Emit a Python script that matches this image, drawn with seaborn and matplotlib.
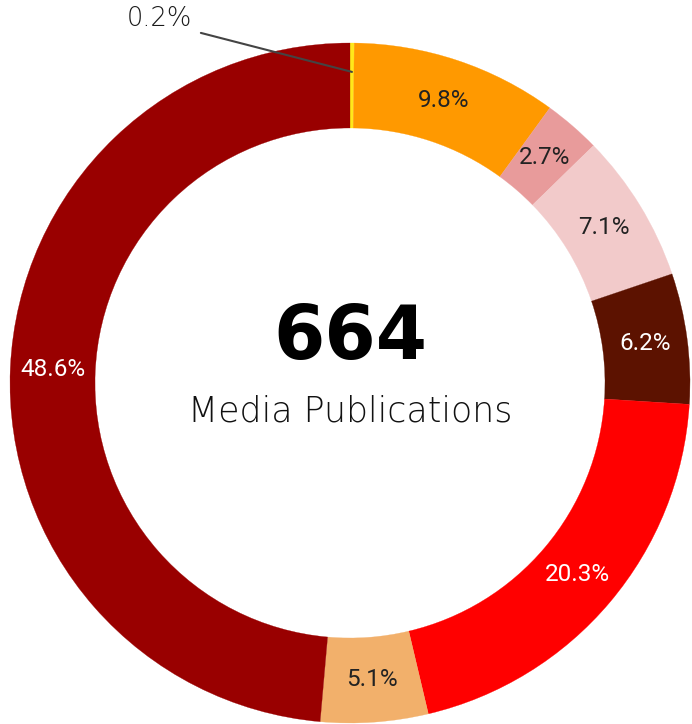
import numpy as np
import matplotlib
matplotlib.use('Agg')
import matplotlib.pyplot as plt
import seaborn as sns

# slice data, clockwise from 12 o'clock
categories = ['A', 'B', 'C', 'D', 'E', 'F', 'G', 'H']
shares = [0.2, 9.8, 2.7, 7.1, 6.2, 20.3, 5.1, 48.6]
slice_colors = ['#FFE81A', '#FF9900', '#E89B9B', '#F2CACA',
                '#5C1200', '#FF0000', '#F2B06B', '#990000']
label_colors = ['#222222', '#222222', '#222222', '#222222',
                'white', 'white', '#222222', 'white']
total = 664
subtitle = 'Media Publications'

sns.set_theme(style='white')
plt.rcParams['font.family'] = ['Roboto', 'DejaVu Sans']

fig = plt.figure(figsize=(6.92, 7.24), dpi=100)
ax = fig.add_axes([10 / 692, 1 / 724, 680 / 692, 680 / 724])

palette = sns.color_palette(slice_colors)
wedges, _ = ax.pie(shares, colors=palette, startangle=90, counterclock=False,
                   radius=1.0, wedgeprops=dict(width=0.25, linewidth=0.2))
for w, c in zip(wedges, palette):
    w.set_edgecolor(c)

ax.set_xlim(-1, 1)
ax.set_ylim(-1, 1)
ax.set_aspect('equal')
ax.axis('off')

# percentage labels inside the ring
for w, val, tc in zip(wedges, shares, label_colors):
    mid = np.deg2rad((w.theta1 + w.theta2) / 2)
    if val < 1:
        r = 0.915
        ax.annotate(f'{val}%', xy=(r * np.cos(mid), r * np.sin(mid)),
                    xytext=(-0.56, 1.073), ha='center', va='center',
                    fontsize=18.5, color='#1a1a1a', family=['DejaVu Sans'],
                    fontweight=200,
                    arrowprops=dict(arrowstyle='-', color='#444444', lw=1.5,
                                    relpos=(1, 0), shrinkA=4, shrinkB=0))
        continue
    r = 0.875
    ax.text(r * np.cos(mid), r * np.sin(mid), f'{val}%', ha='center',
            va='center', fontsize=17.5, color=tc)

ax.text(0, 0.13, str(total), ha='center', va='center', fontsize=53,
        fontweight='bold', family=['DejaVu Sans'], color='black')
ax.text(0, -0.085, subtitle, ha='center', va='center', fontsize=25,
        fontweight=200, family=['DejaVu Sans'], color='#111111')

fig.savefig('out.png', dpi=100)
